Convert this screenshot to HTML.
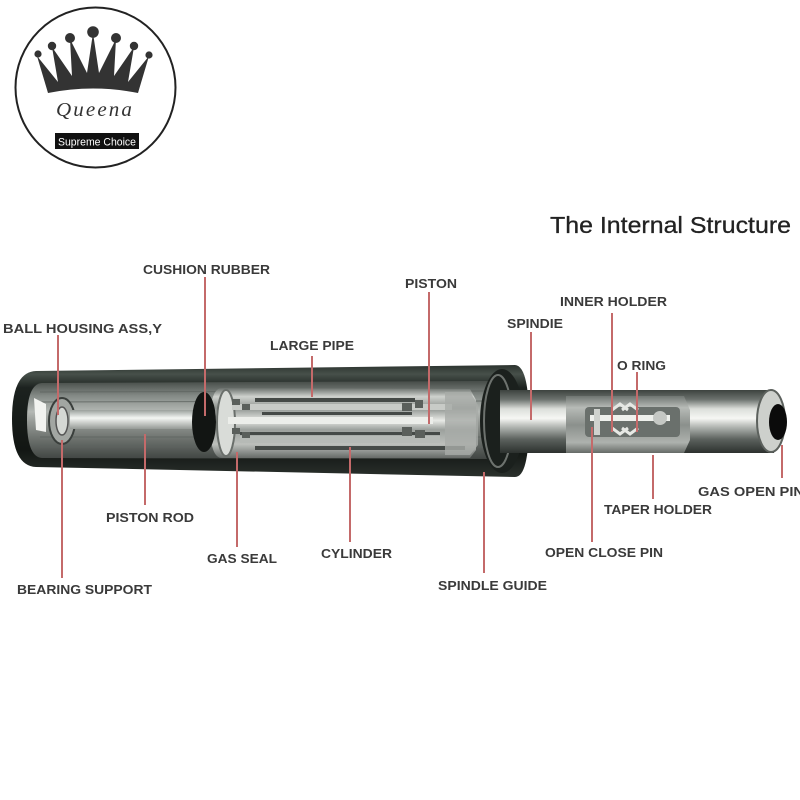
<!DOCTYPE html>
<html><head><meta charset="utf-8"><style>
html,body{margin:0;padding:0;background:#fff;}
svg{display:block;}
.l{font-family:"Liberation Sans",Arial,sans-serif;font-weight:bold;font-size:12.5px;fill:#3a3a3a;}
.c{stroke:#c46a6a;stroke-width:2;}
</style></head><body>
<svg width="800" height="800" viewBox="0 0 800 800" xmlns="http://www.w3.org/2000/svg">
<defs>
<linearGradient id="outer" x1="0" y1="365" x2="0" y2="478" gradientUnits="userSpaceOnUse">
<stop offset="0" stop-color="#2c332f"/><stop offset="0.08" stop-color="#47504a"/><stop offset="0.2" stop-color="#1c221f"/><stop offset="0.75" stop-color="#121613"/><stop offset="1" stop-color="#2b312d"/>
</linearGradient>
<linearGradient id="win" x1="0" y1="382" x2="0" y2="460" gradientUnits="userSpaceOnUse">
<stop offset="0" stop-color="#4a504c"/><stop offset="0.18" stop-color="#858b87"/><stop offset="0.38" stop-color="#b4b8b4"/><stop offset="0.5" stop-color="#989c98"/><stop offset="0.7" stop-color="#727773"/><stop offset="1" stop-color="#3e4340"/>
</linearGradient>
<linearGradient id="rod" x1="0" y1="410" x2="0" y2="430" gradientUnits="userSpaceOnUse">
<stop offset="0" stop-color="#9aa09c"/><stop offset="0.4" stop-color="#f4f6f3"/><stop offset="1" stop-color="#8c918d"/>
</linearGradient>
<linearGradient id="pipe" x1="0" y1="388" x2="0" y2="460" gradientUnits="userSpaceOnUse">
<stop offset="0" stop-color="#6a706c"/><stop offset="0.12" stop-color="#cfd2ce"/><stop offset="0.28" stop-color="#8e938f"/><stop offset="0.45" stop-color="#e8eae6"/><stop offset="0.58" stop-color="#9ca19d"/><stop offset="0.78" stop-color="#bdc0bc"/><stop offset="1" stop-color="#5a5f5c"/>
</linearGradient>
<linearGradient id="spin" x1="0" y1="390" x2="0" y2="453" gradientUnits="userSpaceOnUse">
<stop offset="0" stop-color="#3c423e"/><stop offset="0.15" stop-color="#6c726e"/><stop offset="0.3" stop-color="#dcdfdb"/><stop offset="0.45" stop-color="#f6f7f4"/><stop offset="0.58" stop-color="#b5b9b5"/><stop offset="0.78" stop-color="#5c625e"/><stop offset="1" stop-color="#2c312e"/>
</linearGradient>
<linearGradient id="taper" x1="0" y1="396" x2="0" y2="454" gradientUnits="userSpaceOnUse">
<stop offset="0" stop-color="#6f7571"/><stop offset="0.2" stop-color="#b7bbb7"/><stop offset="0.5" stop-color="#8b908c"/><stop offset="0.8" stop-color="#aeb2ae"/><stop offset="1" stop-color="#5f6460"/>
</linearGradient>
</defs>

<!-- Logo -->
<circle cx="95.5" cy="87.5" r="80" fill="#fff" stroke="#222" stroke-width="2"/>
<path d="M37,56 L58,82 L52,47 L72,76 L70,39 L87,73 L93,33 L99,73 L116,39 L114,76 L134,47 L128,82 L149,56 L138,93 Q93,84 48,93 Z" fill="#333"/>
<circle cx="38" cy="54" r="3.6" fill="#333"/>
<circle cx="52" cy="46" r="4.2" fill="#333"/>
<circle cx="70" cy="38" r="5" fill="#333"/>
<circle cx="93" cy="32" r="5.8" fill="#333"/>
<circle cx="116" cy="38" r="5" fill="#333"/>
<circle cx="134" cy="46" r="4.2" fill="#333"/>
<circle cx="149" cy="55" r="3.6" fill="#333"/>
<text x="95" y="116" text-anchor="middle" font-family="'Liberation Serif',serif" font-style="italic" font-size="20" fill="#333" letter-spacing="2" textLength="78" lengthAdjust="spacingAndGlyphs">Queena</text>
<rect x="55" y="133" width="84" height="16" fill="#111"/>
<text x="97" y="145.5" text-anchor="middle" font-family="'Liberation Sans',sans-serif" font-size="11" fill="#fff" textLength="78" lengthAdjust="spacingAndGlyphs">Supreme Choice</text>

<!-- Title -->
<text x="550" y="233" font-family="'Liberation Sans',sans-serif" font-size="23" fill="#222" stroke="#222" stroke-width="0.3" textLength="241" lengthAdjust="spacingAndGlyphs">The Internal Structure</text>

<!-- Outer tube -->
<path d="M36,371 L515,365 Q529,366 529,421 Q529,477 515,477 L36,467 Q12,466 12,419 Q12,372 36,371 Z" fill="url(#outer)"/>
<!-- inner window -->
<path d="M42,383 L492,381 L492,459 L42,458 Q27,457 27,420 Q27,384 42,383 Z" fill="url(#win)"/>
<g stroke="#5e6460" stroke-width="1" opacity="0.8">
<line x1="40" y1="392" x2="490" y2="391"/><line x1="40" y1="402" x2="490" y2="401"/><line x1="40" y1="437" x2="490" y2="437"/><line x1="40" y1="447" x2="490" y2="447"/>
</g>
<!-- ball housing -->
<path d="M34,398 L46,404 L46,432 L36,430 Z" fill="#f2f3f0"/>
<ellipse cx="62" cy="421" rx="13" ry="23" fill="#a2a6a2" stroke="#3a3f3c" stroke-width="2"/>
<ellipse cx="62" cy="421" rx="6" ry="14" fill="#d5d8d4" stroke="#555" stroke-width="1.5"/>
<!-- piston rod -->
<rect x="70" y="410" width="135" height="19" fill="url(#rod)"/>
<!-- large pipe -->
<path d="M222,388 L470,389 L476,400 L476,450 L470,458 L222,458 Q210,458 210,423 Q210,388 222,388 Z" fill="url(#pipe)"/>
<!-- cushion rubber -->
<ellipse cx="204" cy="422" rx="12" ry="30" fill="#121513"/>
<ellipse cx="226" cy="423" rx="9" ry="33" fill="#d9dcd8" stroke="#6a6f6b" stroke-width="2"/>
<!-- pipe internals -->
<g fill="#454a47">
<rect x="255" y="398" width="160" height="4"/>
<rect x="262" y="412" width="150" height="3"/>
<rect x="240" y="432" width="200" height="3"/>
<rect x="255" y="446" width="210" height="4"/>
</g>
<rect x="232" y="404" width="220" height="6" fill="#c8cbc7"/>
<rect x="228" y="417" width="205" height="7" fill="#eceeea"/>
<rect x="240" y="436" width="200" height="7" fill="#b6bab6"/>
<g fill="#5a5f5b">
<rect x="232" y="399" width="8" height="6"/><rect x="242" y="404" width="8" height="6"/><rect x="232" y="428" width="8" height="6"/><rect x="242" y="432" width="8" height="6"/>
<rect x="402" y="403" width="10" height="8"/><rect x="415" y="400" width="8" height="8"/><rect x="402" y="427" width="10" height="9"/><rect x="415" y="430" width="10" height="8"/>
</g>
<path d="M445,392 L470,392 L478,405 L478,445 L470,455 L445,455 Z" fill="#a7aba7" opacity="0.8"/>
<!-- end cap -->
<ellipse cx="502" cy="421" rx="22" ry="52" fill="#1b201d"/>
<ellipse cx="498" cy="421" rx="14" ry="46" fill="none" stroke="#6d726e" stroke-width="2"/>
<!-- spindle -->
<rect x="500" y="390" width="274" height="63" fill="url(#spin)"/>
<!-- taper holder -->
<path d="M566,396 L684,396 L690,410 L690,440 L684,453 L566,453 Z" fill="url(#taper)"/>
<rect x="585" y="407" width="95" height="30" rx="4" fill="#6a706c"/>
<rect x="590" y="415" width="80" height="6" fill="#eef0ec"/>
<rect x="594" y="409" width="6" height="26" fill="#cfd2ce"/>
<circle cx="660" cy="418" r="7" fill="#c5c8c4"/>
<g fill="none" stroke="#e6e8e4" stroke-width="3">
<path d="M612,410 L620,404 L628,410"/><path d="M622,410 L630,404 L638,410"/>
<path d="M612,428 L620,434 L628,428"/><path d="M622,428 L630,434 L638,428"/>
</g>
<!-- right end -->
<ellipse cx="771" cy="421" rx="14" ry="31" fill="#cdd0cc" stroke="#5c615d" stroke-width="2"/>
<ellipse cx="778" cy="422" rx="9" ry="18" fill="#0b0b0b"/>

<!-- connector lines -->
<g class="c">
<line x1="58" y1="335" x2="58" y2="415"/>
<line x1="205" y1="277" x2="205" y2="416"/>
<line x1="312" y1="356" x2="312" y2="397"/>
<line x1="429" y1="292" x2="429" y2="424"/>
<line x1="531" y1="332" x2="531" y2="420"/>
<line x1="612" y1="313" x2="612" y2="432"/>
<line x1="637" y1="372" x2="637" y2="432"/>
<line x1="62" y1="440" x2="62" y2="578"/>
<line x1="145" y1="434" x2="145" y2="505"/>
<line x1="237" y1="452" x2="237" y2="547"/>
<line x1="350" y1="447" x2="350" y2="542"/>
<line x1="484" y1="472" x2="484" y2="573"/>
<line x1="592" y1="427" x2="592" y2="542"/>
<line x1="653" y1="455" x2="653" y2="499"/>
<line x1="782" y1="445" x2="782" y2="478"/>
</g>

<!-- labels -->
<text class="l" x="143" y="274" textLength="127" lengthAdjust="spacingAndGlyphs">CUSHION RUBBER</text>
<text class="l" x="3" y="333" textLength="159" lengthAdjust="spacingAndGlyphs">BALL HOUSING ASS,Y</text>
<text class="l" x="270" y="350" textLength="84" lengthAdjust="spacingAndGlyphs">LARGE PIPE</text>
<text class="l" x="405" y="288" textLength="52" lengthAdjust="spacingAndGlyphs">PISTON</text>
<text class="l" x="507" y="328" textLength="56" lengthAdjust="spacingAndGlyphs">SPINDIE</text>
<text class="l" x="560" y="306" textLength="107" lengthAdjust="spacingAndGlyphs">INNER HOLDER</text>
<text class="l" x="617" y="370" textLength="49" lengthAdjust="spacingAndGlyphs">O RING</text>
<text class="l" x="106" y="522" textLength="88" lengthAdjust="spacingAndGlyphs">PISTON ROD</text>
<text class="l" x="207" y="563" textLength="70" lengthAdjust="spacingAndGlyphs">GAS SEAL</text>
<text class="l" x="321" y="558" textLength="71" lengthAdjust="spacingAndGlyphs">CYLINDER</text>
<text class="l" x="17" y="594" textLength="135" lengthAdjust="spacingAndGlyphs">BEARING SUPPORT</text>
<text class="l" x="438" y="590" textLength="109" lengthAdjust="spacingAndGlyphs">SPINDLE GUIDE</text>
<text class="l" x="545" y="557" textLength="118" lengthAdjust="spacingAndGlyphs">OPEN CLOSE PIN</text>
<text class="l" x="604" y="514" textLength="108" lengthAdjust="spacingAndGlyphs">TAPER HOLDER</text>
<text class="l" x="698" y="496" textLength="106" lengthAdjust="spacingAndGlyphs">GAS OPEN PIN</text>
</svg>
</body></html>
